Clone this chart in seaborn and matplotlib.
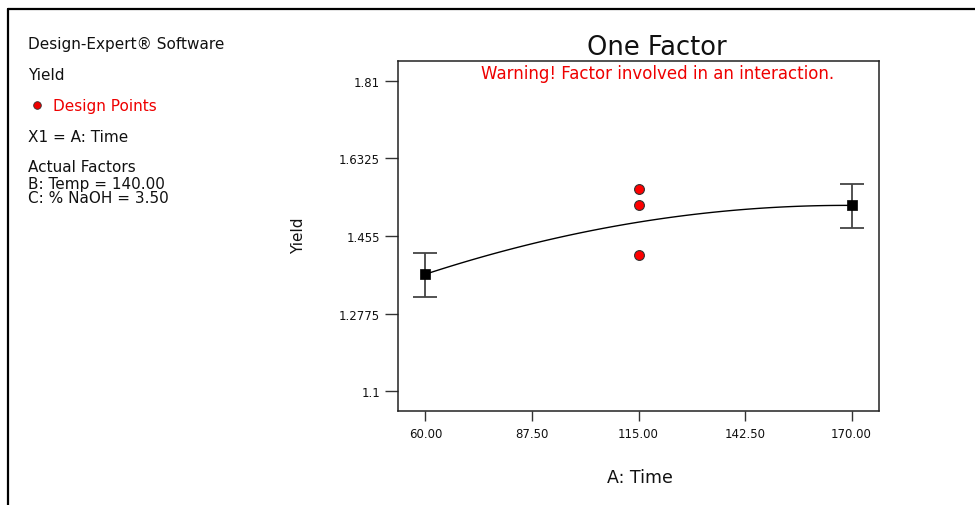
import matplotlib
matplotlib.use("Agg")
import matplotlib.pyplot as plt
import seaborn as sns
import pandas as pd
from matplotlib.lines import Line2D

# ---- data ----
design_time = [115, 115, 115]
design_yield = [1.562, 1.527, 1.412]

mean_time = [60, 170]
mean_yield = [1.3675, 1.525]
ci_low = [1.316, 1.474]
ci_high = [1.416, 1.574]

curve_time = [60, 87.5, 115, 142.5, 170]
curve_yield = [1.3675, 1.438, 1.486, 1.516, 1.525]

x_ticks = [60, 87.5, 115, 142.5, 170]
x_tick_labels = ["60.00", "87.50", "115.00", "142.50", "170.00"]
y_ticks = [1.1, 1.2775, 1.455, 1.6325, 1.81]
y_tick_labels = ["1.1", "1.2775", "1.455", "1.6325", "1.81"]

sns.set_theme(style="white")
plt.rcParams['font.family'] = ['DejaVu Sans']

fig = plt.figure(figsize=(9.75, 5.06), dpi=100)
ax = fig.add_axes([398/975, 1-412/506, (879-398)/975, (412-62)/506])

curve_df = pd.DataFrame({"Time": curve_time, "Yield": curve_yield})
sns.regplot(data=curve_df, x="Time", y="Yield", order=2, ci=None, scatter=False,
            truncate=True, line_kws=dict(color="black", lw=1.0), ax=ax)

ax.errorbar(mean_time, mean_yield,
            yerr=[[m - l for m, l in zip(mean_yield, ci_low)],
                  [h - m for m, h in zip(mean_yield, ci_high)]],
            fmt="none", ecolor="#444444", elinewidth=1.3, capsize=8.3, capthick=1.3, zorder=3)

mean_df = pd.DataFrame({"Time": mean_time, "Yield": mean_yield})
sns.scatterplot(data=mean_df, x="Time", y="Yield", marker="s", s=50, color="black",
                edgecolor="black", linewidth=0.5, ax=ax, zorder=4)

design_df = pd.DataFrame({"Time": design_time, "Yield": design_yield})
sns.scatterplot(data=design_df, x="Time", y="Yield", marker="o", s=50, color="#ff0000",
                edgecolor="#333333", linewidth=0.8, ax=ax, zorder=5)

ax.set_xlim(52.9, 177.1)
ax.set_ylim(1.055, 1.855)
ax.set_xticks(x_ticks)
ax.set_xticklabels(x_tick_labels)
ax.set_yticks(y_ticks)
ax.set_yticklabels(y_tick_labels)
ax.tick_params(axis="x", direction="out", length=7.5, width=1.0, color="#333333",
               labelsize=8.5, pad=4, bottom=True, labelcolor="#111111")
ax.tick_params(axis="y", direction="out", length=9.4, width=1.0, color="#333333",
               labelsize=8.5, pad=3.5, left=True, labelcolor="#111111")
for sp in ax.spines.values():
    sp.set_color("#222222")
    sp.set_linewidth(1.1)
ax.set_xlabel("")
ax.set_ylabel("")
ax.grid(False)

# axis labels
fig.text(299/975, 1-236/506, "Yield", rotation=90, ha="center", va="center", fontsize=11, color="#111111")
fig.text(640/975, 1-478/506, "A: Time", ha="center", va="center", fontsize=12.5, color="#111111")

# title and warning
fig.text(657/975, 1-48/506, "One Factor", ha="center", va="center", fontsize=18.5, color="#111111")
fig.text(658/975, 1-74/506, "Warning! Factor involved in an interaction.",
         ha="center", va="center", fontsize=12, color="#ee0000")

# left information panel
lx = 28/975
fs = 11
fig.text(lx, 1-44/506, "Design-Expert® Software", ha="left", va="center", fontsize=fs, color="#111111")
fig.text(lx, 1-75/506, "Yield", ha="left", va="center", fontsize=fs, color="#111111")
fig.add_artist(Line2D([37/975], [1-106/506], marker="o", markersize=5.5, color="#ee0000",
                      markeredgecolor="#333333", markeredgewidth=0.6, linestyle="none"))
fig.text(53/975, 1-106/506, "Design Points", ha="left", va="center", fontsize=fs, color="#ee0000")
fig.text(lx, 1-137/506, "X1 = A: Time", ha="left", va="center", fontsize=fs, color="#111111")
fig.text(lx, 1-168/506, "Actual Factors", ha="left", va="center", fontsize=fs, color="#111111")
fig.text(lx, 1-184/506, "B: Temp = 140.00", ha="left", va="center", fontsize=fs, color="#111111")
fig.text(lx, 1-199/506, "C: % NaOH = 3.50", ha="left", va="center", fontsize=fs, color="#111111")

# outer frame lines (top and left)
fig.add_artist(Line2D([8/975, 1.0], [1-10/506, 1-10/506], color="black", lw=1.6))
fig.add_artist(Line2D([8/975, 8/975], [0.0, 1-10/506], color="black", lw=1.6))

fig.savefig("out.png", dpi=100, facecolor="white")
